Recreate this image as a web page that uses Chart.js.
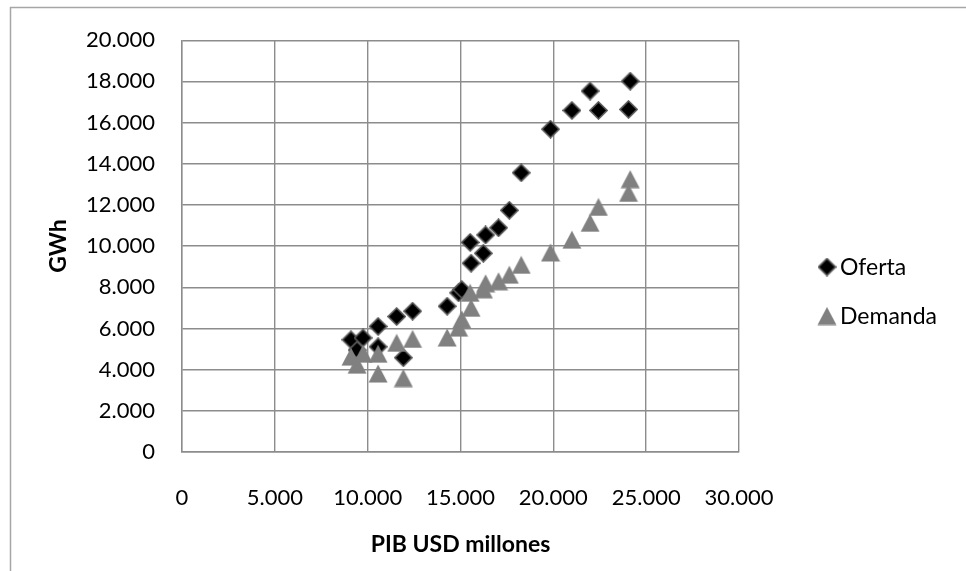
<!DOCTYPE html>
<html>
<head>
<meta charset="utf-8">
<script src="https://cdn.jsdelivr.net/npm/chart.js@4.4.1/dist/chart.umd.min.js"></script>
<style>
  html, body { margin: 0; padding: 0; background: #ffffff; }
  #wrap { width: 966px; height: 571px; }
</style>
</head>
<body>
<div id="wrap"><canvas id="c" width="966" height="571"></canvas></div>
<script>
// PIB (USD millones) per observation, shared by both series
const pib = [9100, 9430, 9750, 10560, 10560, 11560, 11920, 12420, 14280, 14900, 15070, 15570,
             15520, 16230, 16350, 17050, 17630, 18270, 19850, 21000, 21980, 22430, 24050, 24140];
// Oferta de energía (GWh)
const oferta = [5450, 4950, 5540, 6100, 5110, 6580, 4580, 6840, 7080, 7730, 7890, 9170,
                10180, 9650, 10540, 10890, 11740, 13560, 15680, 16590, 17530, 16590, 16640, 18010];
// Demanda de energía (GWh)
const demanda = [4630, 4240, 4770, 4770, 3810, 5300, 3590, 5490, 5560, 6040, 6440, 7000,
                 7730, 7900, 8190, 8290, 8610, 9090, 9690, 10310, 11130, 11900, 12580, 13250];
const seriesNames = ['Oferta', 'Demanda'];
const xTitle = 'PIB USD millones';
const yTitle = 'GWh';

// thousands separator with a dot: 20000 -> "20.000"
function fmt(v) {
  return String(Math.round(v)).replace(/\B(?=(\d{3})+(?!\d))/g, '.');
}

// marker sprites
function diamond(size) {
  const c = document.createElement('canvas');
  c.width = size; c.height = size;
  const g = c.getContext('2d');
  const h = size / 2, m = 1;
  g.beginPath();
  g.moveTo(h, m); g.lineTo(size - m, h); g.lineTo(h, size - m); g.lineTo(m, h);
  g.closePath();
  g.fillStyle = '#000000';
  g.fill();
  g.lineWidth = 1.6;
  g.strokeStyle = '#5a5a5a';
  g.stroke();
  return c;
}
function triangle(w, hgt) {
  const c = document.createElement('canvas');
  c.width = w; c.height = hgt;
  const g = c.getContext('2d');
  g.beginPath();
  g.moveTo(w / 2, 0.5); g.lineTo(w - 0.5, hgt - 0.5); g.lineTo(0.5, hgt - 0.5);
  g.closePath();
  g.fillStyle = '#808080';
  g.fill();
  return c;
}
const diaImg = diamond(19);
const triImg = triangle(20, 19);

function toPoints(xs, ys) {
  return xs.map((x, i) => ({ x: x, y: ys[i] }));
}

const FONT = 'Lato, "Open Sans", sans-serif';

// white background and the outer chart frame
const frame = {
  id: 'frame',
  beforeDraw(chart) {
    const ctx = chart.ctx;
    ctx.save();
    ctx.fillStyle = '#ffffff';
    ctx.fillRect(0, 0, chart.width, chart.height);
    ctx.strokeStyle = '#a6a6a6';
    ctx.lineWidth = 1.5;
    ctx.strokeRect(10.5, 7.5, chart.width + 20, chart.height + 20);
    ctx.restore();
  }
};

// legend on the right, marker followed by the series name
const sideLegend = {
  id: 'sideLegend',
  afterDraw(chart) {
    const ctx = chart.ctx;
    const items = [
      { img: diaImg, y: 267 },
      { img: triImg, y: 316 }
    ];
    ctx.save();
    ctx.font = '23px ' + FONT;
    ctx.fillStyle = '#000000';
    ctx.textBaseline = 'middle';
    ctx.textAlign = 'left';
    items.forEach((it, i) => {
      ctx.drawImage(it.img, 827 - it.img.width / 2, it.y - it.img.height / 2);
      ctx.fillText(chart.data.datasets[i].label, 840, it.y + 1);
    });
    ctx.restore();
  }
};

new Chart(document.getElementById('c'), {
  type: 'scatter',
  data: {
    datasets: [
      {
        label: seriesNames[0],
        data: toPoints(pib, oferta),
        pointStyle: diaImg,
        order: 2
      },
      {
        label: seriesNames[1],
        data: toPoints(pib, demanda),
        pointStyle: triImg,
        order: 1
      }
    ]
  },
  options: {
    responsive: false,
    animation: false,
    events: [],
    layout: { padding: { top: 37, right: 227, bottom: 0, left: 0 } },
    plugins: {
      legend: { display: false },
      tooltip: { enabled: false }
    },
    scales: {
      x: {
        type: 'linear',
        min: 0, max: 30000,
        ticks: {
          stepSize: 5000,
          padding: 33,
          color: '#000000',
          font: { family: FONT, size: 22 },
          callback: v => fmt(v)
        },
        grid: { color: '#8c8c8c', lineWidth: 1.4, drawTicks: false },
        border: { color: '#8c8c8c', width: 1.4 },
        title: {
          display: true,
          text: xTitle,
          color: '#000000',
          font: { family: FONT, size: 23, weight: 'bold' },
          padding: { top: 0, bottom: 13 }
        },
        afterFit(s) { s.height = 119; }
      },
      y: {
        type: 'linear',
        min: 0, max: 20000,
        ticks: {
          stepSize: 2000,
          padding: 27,
          color: '#000000',
          font: { family: FONT, size: 22 },
          callback: v => fmt(v)
        },
        grid: { color: '#8c8c8c', lineWidth: 1.4, drawTicks: false },
        border: { color: '#8c8c8c', width: 1.4 },
        title: {
          display: true,
          text: yTitle,
          color: '#000000',
          font: { family: FONT, size: 23, weight: 'bold' },
          padding: { top: 45, bottom: 0 }
        },
        afterFit(s) { s.width = 182; }
      }
    }
  },
  plugins: [frame, sideLegend]
});
</script>
</body>
</html>
